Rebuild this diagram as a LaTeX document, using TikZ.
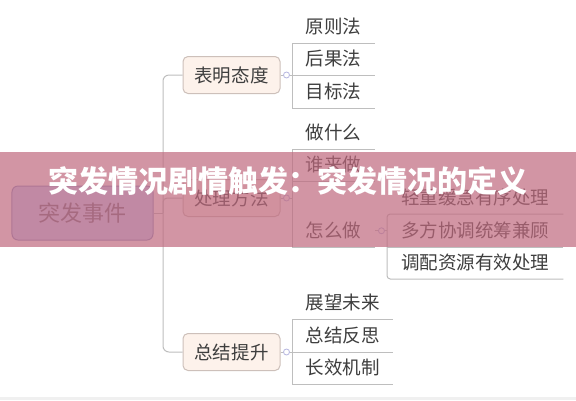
\documentclass[tikz,border=0pt]{standalone}
\usepackage{fontspec}
\newfontfamily\cjk{Noto Sans CJK SC}
\usetikzlibrary{positioning}
\definecolor{linkgray}{RGB}{190,190,190}
\definecolor{inkgray}{RGB}{62,62,62}
\definecolor{topicfill}{RGB}{253,242,235}
\definecolor{topicline}{RGB}{205,192,186}
\definecolor{rootfill}{RGB}{200,214,255}
\definecolor{rootline}{RGB}{140,150,200}
\definecolor{roottext}{RGB}{110,110,135}
\definecolor{foldline}{RGB}{185,185,225}
\definecolor{bannerpink}{RGB}{191,105,126}
\definecolor{stripgray}{RGB}{240,240,240}
\def\trunkx{163}
\def\leafx{292}
\def\subx{387}

\begin{document}
\begin{tikzpicture}[x=0.3mm,y=-0.3mm,
		rootbox/.style={draw=rootline,fill=rootfill,rounded corners=1.8mm,line width=0.3mm,
			minimum width=42.3mm,minimum height=16.2mm,inner sep=0pt,text=roottext,
			font=\cjk\fontsize{18.8}{20}\selectfont},
		topic/.style={draw=topicline,fill=topicfill,rounded corners=1.5mm,line width=0.3mm,
			minimum width=29.1mm,minimum height=11.1mm,inner sep=0pt,text=inkgray,
			font=\cjk\fontsize{15.8}{18}\selectfont},
		leaf/.style={minimum width=24.9mm,minimum height=9.6mm,inner sep=0pt,anchor=south west,
			text=inkgray,font=\cjk\fontsize{15.8}{18}\selectfont},
		link/.style={draw=linkgray,line width=0.3mm},
		fold/.style={circle,draw=foldline,fill=white,inner sep=0pt,minimum size=1.8mm,line width=0.25mm}]
		
		\useasboundingbox (0,0) rectangle (576,400);
		\fill[white] (0,0) rectangle (576,400);
		\fill[stripgray] (0,397) rectangle (576,400);
		
		% ============ Hauptthema und Zweige ============
		\node[rootbox] (root) at (82.5,213) {突发事件};
		\node[topic] (b1) at (231.5,75) {表明态度};
		\node[topic] (b2) at (231.5,198) {处理方法};
		\node[topic] (b3) at (231.5,352) {总结提升};
		\coordinate (trunk) at (\trunkx,213);
		\draw[link] (root.east) -- (trunk);
		\draw[link,rounded corners=1.8mm] (b1.west) -| (trunk |- b3.west) -- (b3.west);
		\draw[link,rounded corners=1.2mm] (trunk) |- (b2.west);
		
		% ============ Blaetter ============
		\node[leaf] (l11) at (\leafx,43) {原则法};
		\node[leaf] (l12) at (\leafx,75) {后果法};
		\node[leaf] (l13) at (\leafx,108) {目标法};
		\node[leaf] (l21) at (\leafx,149) {做什么};
		\node[leaf] (l22) at (\leafx,181) {谁来做};
		\node[leaf] (l23) at (\leafx,247) {怎么做};
		\node[leaf,minimum width=30.3mm] (l31) at (\leafx,319) {展望未来};
		\node[leaf,minimum width=30.3mm] (l32) at (\leafx,352) {总结反思};
		\node[leaf,minimum width=30.3mm] (l33) at (\leafx,384) {长效机制};
		\node[leaf,minimum width=52.8mm] (m1) at (\subx,214) {轻重缓急有序处理};
		\node[leaf,minimum width=52.8mm] (m2) at (\subx,247) {多方协调统筹兼顾};
		\node[leaf,minimum width=52.8mm] (m3) at (\subx,279) {调配资源有效处理};
		\foreach \n in {l11,l12,l13,l21,l22,l23,l31,l32,l33,m2}
			\draw[link] (\n.south west) -- (\n.south east);
		
		% Klammern: senkrechte Linie an den Unterstrichen
		\draw[link] (l11.south west) -- (l13.south west);
		\draw[link] (l21.south west) -- (l23.south west);
		\draw[link] (l31.south west) -- (l33.south west);
		\draw[link,rounded corners=1mm] (m1.south east) -- (m1.south west) -- (m3.south west) -- (m3.south east);
		
		% Verbindungen mit Einklapp-Knopf
		\draw[link] (b1.east) -- (b1.east -| l11.west);
		\draw[link] (b2.east) -- (b2.east -| l21.west);
		\draw[link] (b3.east) -- (b3.east -| l31.west);
		\draw[link] (l23.east) -- (l23.east -| m1.west);
		\node[fold] (f1) at ([xshift=1.8mm]b1.east) {};
		\node[fold] (f2) at ([xshift=1.8mm]b2.east) {};
		\node[fold] (f3) at ([xshift=1.8mm]b3.east) {};
		\node[fold] (f4) at ([xshift=1.8mm]l23.east) {};
		
		% ============ Banner ============
		\fill[bannerpink,fill opacity=0.7] (0,152) rectangle (576,247);
		\node[text=white,font=\cjk\bfseries\fontsize{25.6}{28}\selectfont] (title) at (288,181)
			{突发情况剧情触发：突发情况的定义};
		
	\end{tikzpicture}
\end{document}
